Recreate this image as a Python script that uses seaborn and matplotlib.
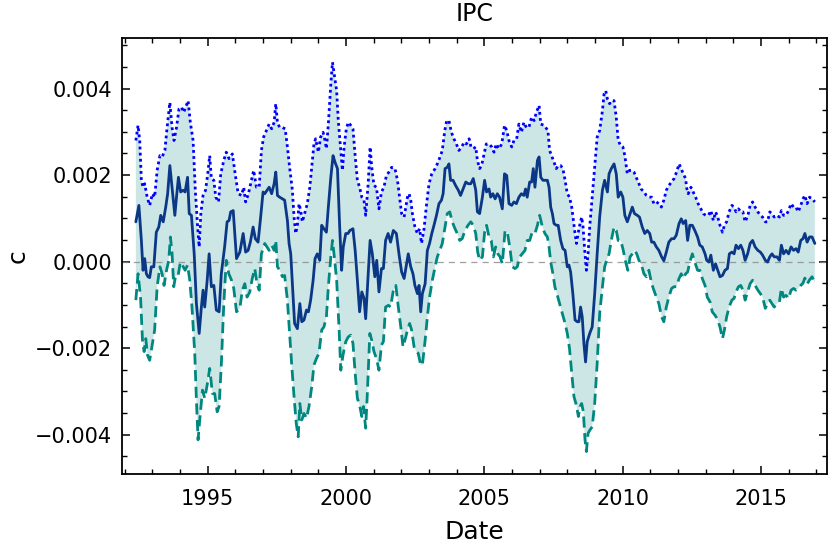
import numpy as np
import pandas as pd
import matplotlib
matplotlib.use("Agg")
import matplotlib.pyplot as plt
import seaborn as sns
from matplotlib.ticker import MultipleLocator

# ---- data (values in units of 1e-3) ----
c_dates = [1992.40, 1992.51, 1992.60, 1992.66, 1992.72, 1992.78, 1992.84, 1992.90, 1992.96, 1993.05,
           1993.14, 1993.23, 1993.30, 1993.39, 1993.48, 1993.55, 1993.63, 1993.72, 1993.81, 1993.87,
           1993.94, 1994.02, 1994.11, 1994.18, 1994.27, 1994.33, 1994.41, 1994.51, 1994.59, 1994.69,
           1994.77, 1994.83, 1994.89, 1994.98, 1995.05, 1995.13, 1995.22, 1995.31, 1995.41, 1995.49,
           1995.61, 1995.70, 1995.77, 1995.83, 1995.92, 1996.04, 1996.16, 1996.28, 1996.37, 1996.46,
           1996.54, 1996.64, 1996.72, 1996.82, 1996.90, 1997.00, 1997.06,
           1997.22, 1997.31, 1997.40, 1997.46, 1997.52, 1997.60, 1997.70, 1997.78, 1997.88, 1997.94,
           1998.00, 1998.06, 1998.14, 1998.24, 1998.33, 1998.40, 1998.48, 1998.57, 1998.64, 1998.72,
           1998.81, 1998.88, 1998.96, 1999.05, 1999.12, 1999.20, 1999.29, 1999.36, 1999.45, 1999.53,
           1999.60, 1999.69, 1999.77, 1999.84, 1999.90, 1999.99, 2000.07, 2000.14, 2000.25, 2000.33,
           2000.41, 2000.49, 2000.57, 2000.65, 2000.71, 2000.80, 2000.87, 2000.95, 2001.04, 2001.11,
           2001.19, 2001.28, 2001.35, 2001.43, 2001.52, 2001.61, 2001.71, 2001.82, 2001.92, 2002.01,
           2002.10,
           2002.25, 2002.34, 2002.42, 2002.49, 2002.58, 2002.64, 2002.70, 2002.76, 2002.86, 2002.94,
           2003.02, 2003.10, 2003.18, 2003.27, 2003.36, 2003.45, 2003.51, 2003.58, 2003.66, 2003.72,
           2003.78, 2003.87, 2003.96, 2004.06, 2004.14, 2004.23, 2004.33, 2004.42, 2004.51, 2004.60,
           2004.69, 2004.75, 2004.83, 2004.93, 2005.01, 2005.08, 2005.17, 2005.23, 2005.31, 2005.39,
           2005.47, 2005.55, 2005.65, 2005.73, 2005.81, 2005.89, 2005.99, 2006.07, 2006.16, 2006.25,
           2006.34, 2006.43, 2006.49, 2006.55, 2006.64, 2006.71, 2006.77, 2006.83, 2006.92, 2006.98,
           2007.04, 2007.12, 2007.22,
           2007.28, 2007.34, 2007.40, 2007.46, 2007.52, 2007.60, 2007.67, 2007.76, 2007.84, 2007.92,
           2008.00, 2008.06, 2008.12, 2008.20, 2008.28, 2008.36, 2008.42, 2008.48, 2008.54, 2008.60,
           2008.66, 2008.72, 2008.81, 2008.90, 2008.99, 2009.08, 2009.17, 2009.27, 2009.35, 2009.45,
           2009.51, 2009.59, 2009.69, 2009.77, 2009.84, 2009.93, 2010.01, 2010.08, 2010.17, 2010.25,
           2010.35, 2010.43, 2010.53, 2010.61, 2010.71, 2010.80, 2010.89, 2010.98, 2011.05, 2011.13,
           2011.22, 2011.31, 2011.41, 2011.49, 2011.58, 2011.67, 2011.77, 2011.86, 2011.94, 2012.04,
           2012.12, 2012.19, 2012.28,
           2012.35, 2012.43, 2012.52, 2012.61, 2012.71, 2012.79, 2012.88, 2012.98, 2013.04, 2013.12,
           2013.19, 2013.28, 2013.36, 2013.44, 2013.52, 2013.61, 2013.70, 2013.79, 2013.86, 2013.95,
           2014.03, 2014.10, 2014.19, 2014.27, 2014.35, 2014.43, 2014.52, 2014.61, 2014.70, 2014.79,
           2014.89, 2014.98, 2015.06, 2015.16, 2015.24, 2015.32, 2015.40, 2015.48, 2015.58, 2015.67,
           2015.74, 2015.82, 2015.91, 2016.00, 2016.09, 2016.18, 2016.27, 2016.35, 2016.44, 2016.52,
           2016.59, 2016.67, 2016.76, 2016.85, 2016.95]
c_vals = [0.92, 1.30, 0.49, -0.20, 0.07, -0.28, -0.35, -0.37, -0.12, -0.12,
          0.68, 0.80, 1.07, 0.92, 1.26, 1.57, 2.22, 1.65, 1.07, 1.49,
          1.95, 1.61, 1.65, 1.61, 1.95, 1.11, 1.07, 0.18, -0.97, -1.66,
          -1.05, -0.66, -1.05, -0.43, 0.18, -0.58, -0.55, -1.12, -1.16, -0.28,
          0.34, 0.92, 0.95, 1.15, 1.18, 0.07, 0.22, 0.65, 0.22, 0.26,
          0.45, 0.80, 0.53, 0.45, 0.95, 1.61, 1.57,
          1.72, 1.57, 1.80, 2.07, 1.53, 1.49, 1.45, 1.42, 0.95, 0.42,
          0.18, -0.51, -1.43, -1.55, -0.97, -1.39, -1.35, -1.12, -1.16, -0.89,
          -0.43, 0.07, 0.18, 0.03, 0.84, 0.76, 0.68, 1.26, 1.95, 2.45,
          2.30, 2.15, 0.80, -0.20, 0.34, 0.65, 0.65, 0.72, 0.76, 0.26,
          -0.43, -1.16, -0.70, -0.85, -1.32, -0.28, 0.49, 0.18, -0.35, 0.03,
          -0.70, -0.16, -0.16, 0.49, 0.65, 0.45, 0.72, 0.65, 0.15, -0.24,
          -0.39,
          0.18, -0.12, -0.28, -0.55, -0.74, -0.55, -1.16, -0.74, -0.51, 0.26,
          0.42, 0.65, 0.84, 1.07, 1.34, 1.42, 1.57, 2.15, 2.18, 2.26,
          1.88, 1.88, 1.76, 1.65, 1.53, 1.68, 1.84, 1.80, 1.80, 1.92,
          1.65, 1.15, 1.11, 1.49, 1.88, 1.61, 1.68, 1.49, 1.57, 1.45,
          1.57, 1.49, 1.22, 2.03, 1.99, 1.34, 1.30, 1.38, 1.34, 1.49,
          1.57, 1.53, 1.68, 1.49, 1.84, 1.84, 2.15, 1.72, 2.34, 2.42,
          1.95, 1.88, 1.88,
          1.88, 1.72, 1.26, 1.11, 0.88, 0.84, 0.84, 0.49, 0.30, 0.26,
          -0.12, -0.08, -0.24, -0.74, -1.35, -1.39, -1.39, -1.05, -1.28, -1.89,
          -2.32, -1.85, -1.66, -1.51, -0.74, 0.18, 1.03, 1.65, 1.88, 1.61,
          2.03, 2.15, 2.26, 2.03, 1.49, 1.61, 1.49, 1.07, 0.92, 1.07,
          1.26, 1.11, 1.07, 1.03, 0.80, 0.65, 0.72, 0.65, 0.45, 0.45,
          0.34, 0.26, 0.11, 0.02, 0.22, 0.45, 0.53, 0.53, 0.61, 0.88,
          0.99, 0.88, 0.95,
          0.49, 0.84, 0.84, 0.72, 0.57, 0.38, 0.34, 0.18, 0.03, -0.01,
          0.15, -0.20, -0.05, -0.20, -0.35, -0.32, -0.20, -0.16, 0.18, 0.22,
          0.18, 0.38, 0.30, 0.38, 0.26, 0.03, 0.18, 0.42, 0.49, 0.34,
          0.26, 0.22, 0.15, 0.03, -0.01, 0.11, 0.18, 0.11, 0.11, 0.03,
          0.38, 0.18, 0.26, 0.18, 0.34, 0.26, 0.30, 0.22, 0.49, 0.53,
          0.65, 0.45, 0.57, 0.57, 0.42]

u_dates = [1992.40, 1992.48, 1992.54, 1992.60, 1992.66, 1992.72, 1992.81, 1992.90, 1993.00, 1993.08,
           1993.17, 1993.27, 1993.35, 1993.45, 1993.53, 1993.63, 1993.71, 1993.78, 1993.87, 1993.96,
           1994.05, 1994.13, 1994.20, 1994.29, 1994.37, 1994.47, 1994.55, 1994.63, 1994.69, 1994.75,
           1994.83, 1994.92, 1995.00, 1995.07, 1995.13, 1995.22, 1995.29, 1995.39, 1995.47, 1995.58,
           1995.67, 1995.77, 1995.89, 1996.01, 1996.10, 1996.22, 1996.30, 1996.37, 1996.47, 1996.58,
           1996.66, 1996.76, 1996.86, 1996.94, 1997.02,
           1997.22, 1997.31, 1997.40, 1997.46, 1997.52, 1997.60, 1997.70, 1997.80, 1997.88, 1997.96,
           1998.06, 1998.12, 1998.18, 1998.24, 1998.30, 1998.36, 1998.42, 1998.52, 1998.60, 1998.69,
           1998.76, 1998.84, 1998.90, 1999.00, 1999.08, 1999.17, 1999.24, 1999.29, 1999.36, 1999.45,
           1999.51, 1999.59, 1999.66, 1999.72, 1999.81, 1999.87, 1999.93, 2000.01, 2000.08, 2000.17,
           2000.25, 2000.33, 2000.41, 2000.49, 2000.57, 2000.65, 2000.71, 2000.80, 2000.87, 2000.93,
           2001.01, 2001.10, 2001.19, 2001.28, 2001.37, 2001.46, 2001.55, 2001.65, 2001.77, 2001.86,
           2001.92, 2002.01, 2002.10,
           2002.22, 2002.28, 2002.34, 2002.40, 2002.49, 2002.58, 2002.66, 2002.73, 2002.82, 2002.90,
           2003.00, 2003.10, 2003.22, 2003.30, 2003.40, 2003.48, 2003.57, 2003.64, 2003.72, 2003.81,
           2003.90, 2003.99, 2004.08, 2004.18, 2004.27, 2004.35, 2004.45, 2004.52, 2004.60, 2004.69,
           2004.75, 2004.83, 2004.90, 2004.99, 2005.07, 2005.17, 2005.27, 2005.35, 2005.43, 2005.53,
           2005.63, 2005.73, 2005.81, 2005.89, 2005.99, 2006.07, 2006.17, 2006.25, 2006.34, 2006.43,
           2006.52, 2006.61, 2006.71, 2006.80, 2006.88, 2006.98, 2007.04, 2007.16,
           2007.30, 2007.36, 2007.43, 2007.52, 2007.60, 2007.67, 2007.76, 2007.84, 2007.92, 2008.00,
           2008.08, 2008.16, 2008.22, 2008.28, 2008.33, 2008.39, 2008.46, 2008.52, 2008.57, 2008.63,
           2008.69, 2008.75, 2008.81, 2008.90, 2009.00, 2009.08, 2009.17, 2009.27, 2009.33, 2009.39,
           2009.45, 2009.53, 2009.60, 2009.69, 2009.77, 2009.84, 2009.93, 2010.01, 2010.08, 2010.17,
           2010.25, 2010.33, 2010.41, 2010.49, 2010.59, 2010.67, 2010.77, 2010.86, 2010.95, 2011.05,
           2011.13, 2011.22, 2011.31, 2011.40, 2011.49, 2011.58, 2011.67, 2011.77, 2011.86, 2011.95,
           2012.04, 2012.12, 2012.19, 2012.28,
           2012.31, 2012.37, 2012.47, 2012.55, 2012.64, 2012.73, 2012.83, 2012.92, 2013.00, 2013.10,
           2013.19, 2013.28, 2013.36, 2013.44, 2013.52, 2013.61, 2013.68, 2013.76, 2013.85, 2013.95,
           2014.03, 2014.10, 2014.19, 2014.27, 2014.35, 2014.43, 2014.53, 2014.61, 2014.70, 2014.79,
           2014.89, 2014.98, 2015.06, 2015.16, 2015.24, 2015.32, 2015.40, 2015.48, 2015.58, 2015.67,
           2015.74, 2015.82, 2015.91, 2016.00, 2016.09, 2016.18, 2016.27, 2016.35, 2016.44, 2016.52,
           2016.59, 2016.67, 2016.76, 2016.85, 2016.95]
u_vals = [2.80, 3.15, 2.80, 1.88, 1.72, 1.80, 1.49, 1.30, 1.57, 1.49,
          2.11, 2.45, 2.42, 2.57, 3.10, 3.68, 3.10, 2.80, 3.10, 3.53,
          3.57, 3.45, 3.57, 3.72, 3.22, 2.80, 1.65, 0.84, 0.34, 1.11,
          1.53, 1.65, 2.03, 2.45, 1.92, 1.88, 1.49, 1.38, 2.03, 2.34,
          2.53, 2.38, 2.49, 1.95, 1.57, 1.53, 1.72, 1.38, 1.57, 1.88,
          2.11, 1.72, 1.72, 2.57, 2.88,
          3.18, 3.07, 3.22, 3.65, 3.22, 3.10, 3.10, 3.07, 2.65, 2.18,
          1.65, 1.03, 0.65, 0.84, 1.34, 1.18, 0.92, 1.15, 1.34, 1.72,
          2.18, 2.72, 2.84, 2.53, 2.88, 2.99, 2.80, 2.61, 3.18, 4.11,
          4.61, 4.26, 3.95, 3.26, 2.57, 2.11, 2.65, 3.07, 3.22, 3.15,
          3.07, 2.45, 1.88, 1.72, 1.49, 1.42, 1.07, 1.80, 2.65, 2.18,
          1.76, 1.72, 1.22, 1.61, 1.72, 1.99, 2.07, 2.18, 2.15, 1.88,
          1.57, 1.11, 1.03,
          1.49, 1.57, 1.42, 1.11, 0.80, 0.65, 0.76, 0.42, 0.76, 1.26,
          1.80, 2.03, 2.15, 2.26, 2.42, 2.57, 3.03, 3.26, 3.26, 2.99,
          2.84, 2.72, 2.57, 2.65, 2.76, 2.72, 2.84, 2.65, 2.61, 2.65,
          2.34, 2.15, 2.22, 2.49, 2.72, 2.72, 2.65, 2.53, 2.72, 2.61,
          2.72, 3.15, 3.03, 2.80, 2.65, 2.80, 2.84, 3.18, 2.99, 3.22,
          3.10, 3.10, 3.34, 3.26, 3.45, 3.61, 3.18, 3.15,
          3.03, 2.57, 2.45, 2.30, 2.15, 2.22, 2.22, 2.15, 1.88, 1.57,
          1.49, 1.26, 0.95, 0.65, 0.42, 0.65, 0.88, 1.03, 0.80, 0.26,
          -0.20, 0.18, 0.80, 1.49, 2.26, 2.88, 3.03, 3.49, 3.88, 3.95,
          3.76, 3.65, 3.72, 3.72, 3.34, 2.80, 2.68, 2.65, 2.45, 2.03,
          2.11, 2.11, 2.07, 1.95, 1.80, 1.68, 1.61, 1.53, 1.49, 1.49,
          1.34, 1.38, 1.34, 1.26, 1.42, 1.65, 1.76, 1.84, 1.92, 2.07,
          2.26, 2.15, 2.03, 1.92,
          1.72, 1.57, 1.72, 1.61, 1.49, 1.34, 1.22, 1.11, 1.07, 1.07,
          1.18, 0.95, 1.15, 1.03, 0.84, 0.68, 0.84, 0.92, 1.15, 1.30,
          1.26, 1.15, 1.22, 1.15, 1.15, 0.92, 1.07, 1.30, 1.38, 1.26,
          1.15, 1.07, 1.03, 0.92, 0.92, 1.15, 1.11, 1.03, 1.07, 1.03,
          1.18, 1.07, 1.07, 1.18, 1.34, 1.26, 1.26, 1.15, 1.30, 1.45,
          1.53, 1.34, 1.49, 1.45, 1.38]

l_dates = [1992.40, 1992.48, 1992.57, 1992.64, 1992.70, 1992.76, 1992.82, 1992.90, 1992.99, 1993.08,
           1993.17, 1993.27, 1993.35, 1993.42, 1993.51, 1993.59, 1993.65, 1993.71, 1993.77, 1993.84,
           1993.93, 1994.01, 1994.08, 1994.18, 1994.27, 1994.35, 1994.43, 1994.53, 1994.59, 1994.65,
           1994.71, 1994.81, 1994.89, 1994.98, 1995.07, 1995.17, 1995.25, 1995.34, 1995.41, 1995.49,
           1995.58, 1995.67, 1995.76, 1995.86, 1995.94, 1996.04, 1996.16, 1996.25, 1996.34, 1996.42,
           1996.52, 1996.61, 1996.70, 1996.78, 1996.86, 1996.94, 1997.06,
           1997.22, 1997.31, 1997.40, 1997.46, 1997.52, 1997.60, 1997.70, 1997.78, 1997.88, 1997.96,
           1998.04, 1998.12, 1998.20, 1998.27, 1998.33, 1998.40, 1998.48, 1998.57, 1998.66, 1998.76,
           1998.84, 1998.93, 1999.02, 1999.12, 1999.20, 1999.29, 1999.36, 1999.45, 1999.51, 1999.59,
           1999.66, 1999.75, 1999.81, 1999.89, 1999.99, 2000.08, 2000.17, 2000.25, 2000.33, 2000.41,
           2000.49, 2000.57, 2000.63, 2000.71, 2000.77, 2000.86, 2000.93, 2001.01, 2001.10, 2001.19,
           2001.28, 2001.35, 2001.43, 2001.53, 2001.61, 2001.70, 2001.80, 2001.89, 2001.98, 2002.06,
           2002.16,
           2002.22, 2002.30, 2002.37, 2002.46, 2002.54, 2002.61, 2002.70, 2002.76, 2002.86, 2002.94,
           2003.02, 2003.12, 2003.22, 2003.30, 2003.39, 2003.48, 2003.58, 2003.66, 2003.75, 2003.84,
           2003.94, 2004.02, 2004.11, 2004.20, 2004.30, 2004.41, 2004.51, 2004.60, 2004.69, 2004.76,
           2004.83, 2004.93, 2005.01, 2005.08, 2005.17, 2005.25, 2005.33, 2005.41, 2005.49, 2005.57,
           2005.65, 2005.75, 2005.83, 2005.92, 2006.01, 2006.11, 2006.19, 2006.28, 2006.37, 2006.47,
           2006.55, 2006.64, 2006.73, 2006.83, 2006.92, 2007.00, 2007.10, 2007.19,
           2007.28, 2007.34, 2007.40, 2007.48, 2007.55, 2007.64, 2007.72, 2007.82, 2007.92, 2008.00,
           2008.08, 2008.16, 2008.24, 2008.33, 2008.40, 2008.46, 2008.52, 2008.58, 2008.64, 2008.69,
           2008.75, 2008.82, 2008.90, 2008.99, 2009.08, 2009.17, 2009.27, 2009.35, 2009.42, 2009.51,
           2009.59, 2009.69, 2009.77, 2009.84, 2009.93, 2010.01, 2010.11, 2010.19, 2010.27, 2010.35,
           2010.43, 2010.51, 2010.59, 2010.67, 2010.77, 2010.86, 2010.95, 2011.05, 2011.13, 2011.22,
           2011.31, 2011.41, 2011.49, 2011.58, 2011.67, 2011.77, 2011.86, 2011.94, 2012.04, 2012.12,
           2012.19, 2012.28,
           2012.35, 2012.43, 2012.52, 2012.61, 2012.71, 2012.79, 2012.88, 2012.98, 2013.06, 2013.16,
           2013.24, 2013.34, 2013.42, 2013.52, 2013.61, 2013.68, 2013.76, 2013.85, 2013.95, 2014.03,
           2014.10, 2014.19, 2014.27, 2014.35, 2014.43, 2014.52, 2014.61, 2014.70, 2014.79, 2014.89,
           2014.98, 2015.06, 2015.16, 2015.24, 2015.32, 2015.40, 2015.48, 2015.58, 2015.67, 2015.74,
           2015.82, 2015.91, 2016.00, 2016.09, 2016.18, 2016.27, 2016.35, 2016.44, 2016.52, 2016.59,
           2016.67, 2016.76, 2016.85, 2016.95]
l_vals = [-0.89, -0.28, -0.82, -1.82, -2.08, -1.78, -2.16, -2.28, -1.93, -1.58,
          -0.58, -0.12, -0.28, -0.55, -0.20, 0.03, 0.57, 0.18, -0.58, -0.32,
          -0.32, -0.01, -0.08, -0.20, -0.08, -0.43, -1.05, -2.12, -3.20, -4.12,
          -3.66, -2.97, -3.16, -2.85, -2.47, -3.05, -3.05, -3.47, -3.35, -2.39,
          -0.97, 0.03, -0.28, -0.43, -0.62, -1.16, -1.08, -0.66, -0.51, -0.82,
          -0.70, -0.39, -0.16, -0.51, -0.66, 0.18, 0.42,
          0.26, 0.38, 0.26, 0.49, -0.12, -0.20, -0.35, -0.32, -0.89, -1.66,
          -2.43, -3.12, -3.74, -4.05, -3.28, -3.66, -3.51, -3.62, -3.35, -2.89,
          -2.39, -2.24, -2.12, -1.58, -1.51, -1.28, -0.58, 0.11, 0.49, 0.03,
          -0.43, -1.58, -2.51, -2.16, -1.85, -1.74, -1.70, -1.89, -2.58, -3.16,
          -3.32, -3.58, -3.35, -3.85, -3.05, -1.66, -1.82, -2.08, -2.24, -2.51,
          -1.93, -1.85, -1.05, -1.01, -1.05, -0.70, -0.55, -1.05, -1.51, -1.97,
          -1.74,
          -1.58, -1.43, -1.58, -1.97, -2.08, -2.12, -2.39, -2.39, -1.82, -1.28,
          -0.82, -0.43, -0.12, 0.11, 0.26, 0.42, 0.80, 1.11, 1.15, 0.92,
          0.76, 0.65, 0.49, 0.53, 0.72, 0.84, 0.92, 0.84, 0.65, 0.22,
          0.03, 0.11, 0.68, 0.84, 0.57, 0.49, 0.11, 0.34, 0.18, 0.11,
          -0.05, 0.72, 0.68, 0.34, -0.12, -0.16, -0.12, 0.11, 0.18, 0.26,
          0.49, 0.49, 0.68, 0.65, 0.84, 1.07, 0.80, 0.65,
          0.57, 0.34, -0.01, -0.28, -0.58, -0.78, -0.97, -1.20, -1.43, -1.66,
          -2.01, -2.58, -3.12, -3.32, -3.58, -3.35, -3.28, -3.47, -4.12, -4.39,
          -3.97, -3.89, -3.82, -3.28, -2.35, -1.20, -0.58, -0.12, 0.03, 0.18,
          0.49, 0.80, 0.72, 0.49, 0.49, 0.30, -0.01, -0.20, 0.11, 0.18,
          0.26, 0.18, 0.03, -0.05, -0.28, -0.35, -0.20, -0.51, -0.66, -0.82,
          -0.97, -1.28, -1.39, -1.05, -0.82, -0.62, -0.58, -0.58, -0.39, -0.28,
          -0.39, -0.28,
          -0.24, -0.01, 0.18, -0.01, -0.20, -0.20, -0.39, -0.55, -0.82, -0.93,
          -1.16, -1.24, -1.32, -1.51, -1.78, -1.58, -1.28, -1.05, -0.89, -0.85,
          -0.70, -0.58, -0.55, -0.66, -0.89, -0.70, -0.51, -0.43, -0.55, -0.66,
          -0.74, -0.82, -1.08, -0.97, -0.89, -0.97, -1.05, -0.97, -0.93, -0.62,
          -0.82, -0.78, -0.85, -0.66, -0.62, -0.66, -0.62, -0.55, -0.50, -0.38,
          -0.52, -0.42, -0.35, -0.50]

title = "IPC"
xlabel = "Date"
ylabel = "c"

SCALE = 1e-3
center = pd.DataFrame({"date": c_dates, "c": np.array(c_vals) * SCALE})
upper = pd.DataFrame({"date": u_dates, "c": np.array(u_vals) * SCALE})
lower = pd.DataFrame({"date": l_dates, "c": np.array(l_vals) * SCALE})

sns.set_theme(style="ticks")
plt.rcParams["font.family"] = ["DejaVu Sans"]
plt.rcParams["text.color"] = "black"
plt.rcParams["axes.labelcolor"] = "black"
plt.rcParams["xtick.color"] = "black"
plt.rcParams["ytick.color"] = "black"

fig = plt.figure(figsize=(8.3, 5.48), dpi=100)
ax = fig.add_axes([0.147, 0.135, 0.8494, 0.7957])

# shaded band between the bounds
band_x = np.concatenate([upper["date"].values, lower["date"].values[::-1]])
band_y = np.concatenate([upper["c"].values, lower["c"].values[::-1]])
ax.fill(band_x, band_y, color="#008080", alpha=0.2, lw=0, zorder=1)

ax.axhline(0, color="#888888", lw=0.9, ls=(0, (5, 4)), alpha=0.8, zorder=2)

sns.lineplot(data=upper, x="date", y="c", ax=ax, color="#0000ff", lw=2.0,
             linestyle=(0, (1, 1.2)), sort=False, zorder=3)
sns.lineplot(data=lower, x="date", y="c", ax=ax, color="#00877f", lw=2.0,
             linestyle=(0, (4, 2)), sort=False, zorder=3)
sns.lineplot(data=center, x="date", y="c", ax=ax, color="#0b3787", lw=2.0,
             sort=False, zorder=4)

ax.set_xlim(1991.9, 2017.39)
ax.set_ylim(-0.00491, 0.00517)
ax.xaxis.set_major_locator(MultipleLocator(5))
ax.xaxis.set_minor_locator(MultipleLocator(1))
ax.yaxis.set_major_locator(MultipleLocator(0.002))
ax.yaxis.set_minor_locator(MultipleLocator(0.0005))
ax.xaxis.set_major_formatter(matplotlib.ticker.FuncFormatter(lambda v, p: f"{int(round(v))}"))

ax.tick_params(which="both", direction="in", top=True, right=True, colors="black")
ax.tick_params(which="major", length=6, width=1.1, labelsize=15)
ax.tick_params(axis="y", which="major", pad=7)
ax.tick_params(axis="x", which="major", pad=10.5)
ax.tick_params(which="minor", length=3.5, width=1.0)
for s in ax.spines.values():
    s.set_linewidth(1.3)
    s.set_color("black")

ax.set_title(title, fontsize=17, pad=12, color="black")
ax.set_xlabel(xlabel, fontsize=18, labelpad=8, color="black")
ax.set_ylabel(ylabel, fontsize=18, labelpad=4, color="black")

fig.savefig("out.png", dpi=100)
